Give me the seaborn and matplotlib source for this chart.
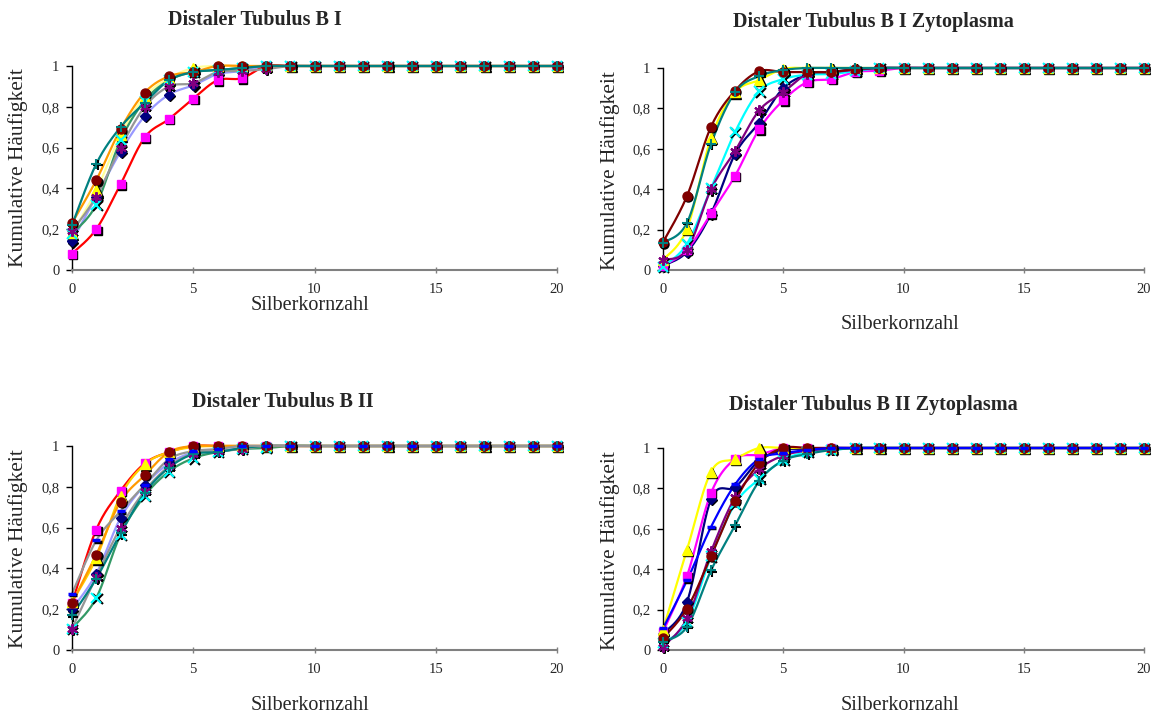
import numpy as np
import pandas as pd
import matplotlib
matplotlib.use("Agg")
import matplotlib.pyplot as plt
import matplotlib.transforms as mtransforms
import seaborn as sns

sns.set_theme(style="white")
plt.rcParams['font.family'] = ['Liberation Serif', 'DejaVu Serif']

X = list(range(21))

# ---------- Panel 1: Distaler Tubulus B I ----------
p1_diamond  = [0.14, 0.36, 0.58, 0.755, 0.86, 0.905, 0.96, 0.975, 1, 1, 1, 1, 1, 1, 1, 1, 1, 1, 1, 1, 1]
p1_square   = [0.08, 0.20, 0.42, 0.65, 0.74, 0.84, 0.93, 0.94, 1, 1, 1, 1, 1, 1, 1, 1, 1, 1, 1, 1, 1]
p1_triangle = [0.18, 0.39, 0.66, 0.85, 0.94, 0.99, 1, 1, 1, 1, 1, 1, 1, 1, 1, 1, 1, 1, 1, 1, 1]
p1_cross    = [0.175, 0.32, 0.635, 0.83, 0.93, 0.97, 0.98, 0.99, 1, 1, 1, 1, 1, 1, 1, 1, 1, 1, 1, 1, 1]
p1_star     = [0.19, 0.36, 0.60, 0.80, 0.90, 0.915, 0.97, 0.975, 0.985, 1, 1, 1, 1, 1, 1, 1, 1, 1, 1, 1, 1]
p1_circle   = [0.23, 0.44, 0.69, 0.87, 0.95, 0.97, 1, 1, 1, 1, 1, 1, 1, 1, 1, 1, 1, 1, 1, 1, 1]
p1_plus     = [0.22, 0.52, 0.70, 0.82, 0.93, 0.97, 0.98, 0.99, 1, 1, 1, 1, 1, 1, 1, 1, 1, 1, 1, 1, 1]

# ---------- Panel 2: Distaler Tubulus B I Zytoplasma ----------
p2_diamond  = [0.02, 0.09, 0.28, 0.575, 0.73, 0.90, 0.967, 0.98, 0.995, 1, 1, 1, 1, 1, 1, 1, 1, 1, 1, 1, 1]
p2_square   = [0.02, 0.10, 0.28, 0.467, 0.697, 0.84, 0.93, 0.945, 0.98, 0.987, 1, 1, 1, 1, 1, 1, 1, 1, 1, 1, 1]
p2_triangle = [0.05, 0.205, 0.655, 0.88, 0.94, 0.995, 1, 1, 1, 1, 1, 1, 1, 1, 1, 1, 1, 1, 1, 1, 1]
p2_cross    = [0.016, 0.13, 0.405, 0.684, 0.885, 0.945, 0.967, 0.97, 0.985, 1, 1, 1, 1, 1, 1, 1, 1, 1, 1, 1, 1]
p2_star     = [0.05, 0.10, 0.40, 0.59, 0.79, 0.88, 0.97, 0.98, 0.99, 1, 1, 1, 1, 1, 1, 1, 1, 1, 1, 1, 1]
p2_circle   = [0.137, 0.367, 0.71, 0.888, 0.984, 0.98, 0.98, 0.98, 0.995, 1, 1, 1, 1, 1, 1, 1, 1, 1, 1, 1, 1]
p2_plus     = [0.135, 0.234, 0.625, 0.88, 0.96, 0.99, 1, 1, 1, 1, 1, 1, 1, 1, 1, 1, 1, 1, 1, 1, 1]

# ---------- Panel 3: Distaler Tubulus B II ----------
p3_diamond  = [0.20, 0.374, 0.647, 0.808, 0.915, 0.967, 0.975, 0.99, 1, 1, 1, 1, 1, 1, 1, 1, 1, 1, 1, 1, 1]
p3_square   = [0.23, 0.59, 0.78, 0.915, 0.97, 1, 1, 1, 1, 1, 1, 1, 1, 1, 1, 1, 1, 1, 1, 1, 1]
p3_triangle = [0.235, 0.45, 0.755, 0.91, 0.97, 0.995, 1, 1, 1, 1, 1, 1, 1, 1, 1, 1, 1, 1, 1, 1, 1]
p3_cross    = [0.105, 0.255, 0.565, 0.756, 0.875, 0.94, 0.97, 0.985, 0.99, 1, 1, 1, 1, 1, 1, 1, 1, 1, 1, 1, 1]
p3_star     = [0.105, 0.36, 0.60, 0.78, 0.90, 0.963, 0.975, 0.985, 1, 1, 1, 1, 1, 1, 1, 1, 1, 1, 1, 1, 1]
p3_circle   = [0.23, 0.467, 0.727, 0.857, 0.97, 1, 1, 1, 1, 1, 1, 1, 1, 1, 1, 1, 1, 1, 1, 1, 1]
p3_plus     = [0.17, 0.35, 0.572, 0.77, 0.894, 0.96, 0.97, 0.99, 1, 1, 1, 1, 1, 1, 1, 1, 1, 1, 1, 1, 1]
p3_dash     = [0.276, 0.537, 0.68, 0.81, 0.935, 0.975, 0.985, 1, 1, 1, 1, 1, 1, 1, 1, 1, 1, 1, 1, 1, 1]

# ---------- Panel 4: Distaler Tubulus B II Zytoplasma ----------
p4_diamond  = [0.08, 0.238, 0.748, 0.806, 0.9375, 0.99, 0.995, 1, 1, 1, 1, 1, 1, 1, 1, 1, 1, 1, 1, 1, 1]
p4_square   = [0.09, 0.367, 0.778, 0.946, 0.967, 1, 1, 1, 1, 1, 1, 1, 1, 1, 1, 1, 1, 1, 1, 1, 1]
p4_triangle = [0.10, 0.497, 0.883, 0.946, 1, 1, 1, 1, 1, 1, 1, 1, 1, 1, 1, 1, 1, 1, 1, 1, 1]
p4_cross    = [0.033, 0.14, 0.464, 0.724, 0.847, 0.94, 0.98, 0.99, 1, 1, 1, 1, 1, 1, 1, 1, 1, 1, 1, 1, 1]
p4_star     = [0.016, 0.156, 0.488, 0.757, 0.896, 0.962, 0.987, 0.995, 1, 1, 1, 1, 1, 1, 1, 1, 1, 1, 1, 1, 1]
p4_circle   = [0.058, 0.205, 0.465, 0.737, 0.926, 1, 1, 1, 1, 1, 1, 1, 1, 1, 1, 1, 1, 1, 1, 1, 1]
p4_plus     = [0.04, 0.115, 0.395, 0.617, 0.836, 0.9375, 0.97, 0.99, 1, 1, 1, 1, 1, 1, 1, 1, 1, 1, 1, 1, 1]
p4_dash     = [0.107, 0.345, 0.61, 0.82, 0.946, 0.974, 0.99, 1, 1, 1, 1, 1, 1, 1, 1, 1, 1, 1, 1, 1, 1]

titles = ["Distaler Tubulus B I", "Distaler Tubulus B I Zytoplasma",
          "Distaler Tubulus B II", "Distaler Tubulus B II Zytoplasma"]
x_label = "Silberkornzahl"
y_label = "Kumulative Häufigkeit"
x_ticks = [0, 5, 10, 15, 20]
y_ticks = [0, 0.2, 0.4, 0.6, 0.8, 1]
y_ticklabels = ["0", "0,2", "0,4", "0,6", "0,8", "1"]

# marker styles (Excel defaults)
MK = {
    "diamond":  dict(marker="D", mfc="#000080", mec="#000080", ms=5),
    "square":   dict(marker="s", mfc="#FF00FF", mec="#FF00FF", ms=6),
    "triangle": dict(marker="^", mfc="#FFFF00", mec="#FFFF00", ms=6.5),
    "cross":    dict(marker="x", mfc="#00FFFF", mec="#00FFFF", ms=6.5, mew=1.5),
    "star":     dict(marker=(6, 2, 0), mfc="#800080", mec="#800080", ms=7.5, mew=1.5),
    "circle":   dict(marker="o", mfc="#800000", mec="#800000", ms=6.5),
    "plus":     dict(marker="+", mfc="#008080", mec="#008080", ms=7.5, mew=1.5),
    "dash":     dict(marker="_", mfc="#0000FF", mec="#0000FF", ms=6, mew=2.5),
}

panels = [
    [("diamond", p1_diamond, "#9999FF"), ("square", p1_square, "#FF0000"),
     ("triangle", p1_triangle, "#FFFF99"), ("cross", p1_cross, "#339966"),
     ("star", p1_star, "#969696"), ("circle", p1_circle, "#FF9900"),
     ("plus", p1_plus, "#008080")],
    [("diamond", p2_diamond, "#000080"), ("square", p2_square, "#FF00FF"),
     ("triangle", p2_triangle, "#FFFF00"), ("cross", p2_cross, "#00FFFF"),
     ("star", p2_star, "#800080"), ("circle", p2_circle, "#800000"),
     ("plus", p2_plus, "#008080")],
    [("diamond", p3_diamond, "#9999FF"), ("square", p3_square, "#FF0000"),
     ("triangle", p3_triangle, "#FFCC00"), ("cross", p3_cross, "#339966"),
     ("star", p3_star, "#969696"), ("circle", p3_circle, "#FF9900"),
     ("plus", p3_plus, "#008080"), ("dash", p3_dash, "#969696")],
    [("diamond", p4_diamond, "#000080"), ("square", p4_square, "#FF00FF"),
     ("triangle", p4_triangle, "#FFFF00"), ("cross", p4_cross, "#00FFFF"),
     ("star", p4_star, "#800080"), ("circle", p4_circle, "#800000"),
     ("plus", p4_plus, "#008080"), ("dash", p4_dash, "#0000FF")],
]


def smooth(xs, ys, n=24):
    """Excel-like smoothed line: cubic Bezier segments with Catmull-Rom control points."""
    P = np.column_stack([xs, ys]).astype(float)
    Pext = np.vstack([P[0], P, P[-1]])
    out = []
    t = np.linspace(0, 1, n, endpoint=False)[:, None]
    for i in range(len(P) - 1):
        p0, p1, p2, p3 = Pext[i], Pext[i + 1], Pext[i + 2], Pext[i + 3]
        c1 = p1 + (p2 - p0) / 6.0
        c2 = p2 - (p3 - p1) / 6.0
        seg = ((1 - t) ** 3) * p1 + 3 * ((1 - t) ** 2) * t * c1 + 3 * (1 - t) * t ** 2 * c2 + t ** 3 * p2
        out.append(seg)
    out.append(P[-1][None, :])
    arr = np.vstack(out)
    return arr[:, 0], arr[:, 1]


fig = plt.figure(figsize=(11.58, 7.2), dpi=100)
fig.patch.set_facecolor("white")

W, H = 1158.0, 720.0
boxes = [  # left, top, right, bottom in pixels
    (72, 66, 557, 270),
    (663, 68, 1144, 270),
    (72, 446, 557, 650),
    (663, 448, 1144, 650),
]
title_pos = [(255, 20), (873, 22), (283, 402), (873, 405)]
xlabel_pos = [(310, 305), (900, 325), (310, 705), (900, 706)]
ylabel_pos = [(18, 168), (610, 171), (18, 549), (610, 551)]

for k, (box, series) in enumerate(zip(boxes, panels)):
    l, t, r, b = box
    ax = fig.add_axes([l / W, 1 - b / H, (r - l) / W, (b - t) / H])
    ax.set_facecolor("white")
    shadow = mtransforms.offset_copy(ax.transData, fig=fig, x=1.3, y=-1.3, units="dots")
    for name, vals, lc in series:
        sx, sy = smooth(X, vals)
        df = pd.DataFrame({"x": sx, "y": sy})
        sns.lineplot(data=df, x="x", y="y", color=lc, lw=1.6, ax=ax, sort=False,
                     estimator=None, clip_on=False)
    for name, vals, lc in series:
        st = MK[name]
        ax.plot(X, vals, linestyle="none", color="black", transform=shadow, clip_on=False,
                marker=st["marker"], ms=st["ms"], mfc="black", mec="black",
                mew=st.get("mew", 1.0), zorder=3)
        ax.plot(X, vals, linestyle="none", clip_on=False, zorder=4,
                marker=st["marker"], ms=st["ms"], mfc=st["mfc"], mec=st["mec"],
                mew=st.get("mew", 1.0))
    ax.set_xlim(0, 20)
    ax.set_ylim(0, 1)
    ax.set_xticks(x_ticks)
    ax.set_xticklabels([str(v) for v in x_ticks])
    ax.set_yticks(y_ticks)
    ax.set_yticklabels(y_ticklabels)
    ax.set_xlabel("")
    ax.set_ylabel("")
    for s in ["top", "right"]:
        ax.spines[s].set_visible(False)
    ax.spines["left"].set_color("black")
    ax.spines["left"].set_linewidth(1.0)
    ax.spines["bottom"].set_color("#808080")
    ax.spines["bottom"].set_linewidth(1.5)
    ax.tick_params(axis="y", direction="out", length=4, width=1, color="black",
                   labelsize=10.5, pad=5, left=True)
    ax.tick_params(axis="x", direction="inout", length=5, width=1, color="#808080",
                   labelsize=10.5, pad=7, bottom=True)
    ax.grid(False)

    tx, ty = title_pos[k]
    fig.text(tx / W, 1 - ty / H, titles[k], ha="center", va="center",
             fontsize=14.5, fontweight="bold")
    lx, ly = xlabel_pos[k]
    fig.text(lx / W, 1 - ly / H, x_label, ha="center", va="center", fontsize=14.5)
    yx, yy = ylabel_pos[k]
    fig.text(yx / W, 1 - yy / H, y_label, ha="center", va="center", fontsize=15.5,
             rotation=90)

fig.savefig("out.png", dpi=100, facecolor="white")
